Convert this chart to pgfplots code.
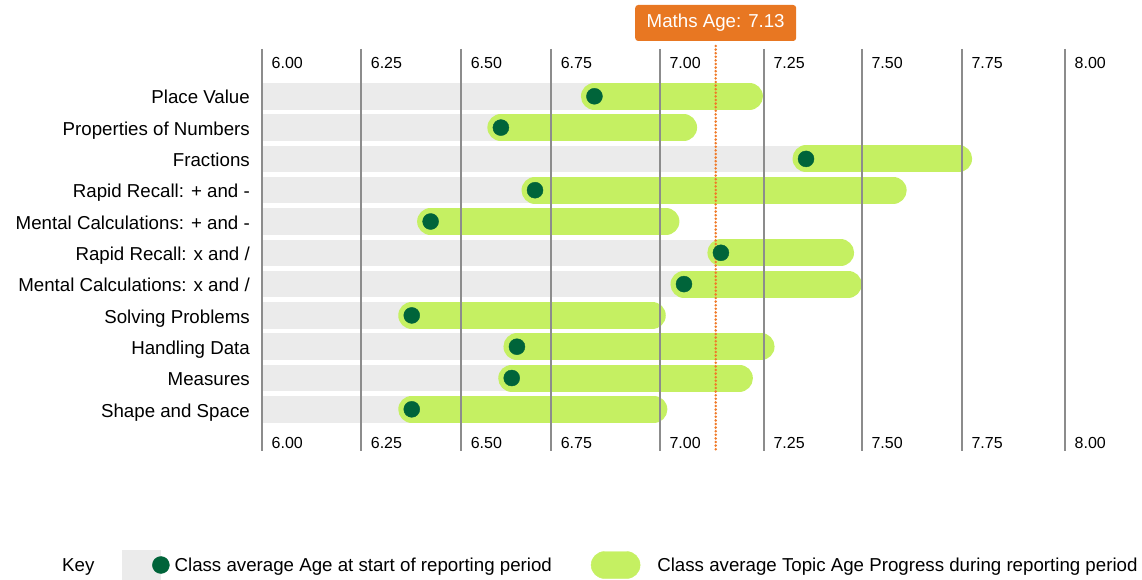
\documentclass[border=0pt]{standalone}
\usepackage{fontspec}
\setmainfont{Liberation Sans}
\usepackage{pgfplots}
\pgfplotsset{compat=1.18}
\definecolor{kgray}{HTML}{EBEBEB}
\definecolor{lgreen}{HTML}{C5F062}
\definecolor{dgreen}{HTML}{00643A}
\definecolor{orng}{HTML}{E87722}
\definecolor{dotorng}{HTML}{F07A28}
\definecolor{gridc}{HTML}{8C8C8C}
\newcommand{\tl}{\fontsize{16}{19}\selectfont}
\newcommand{\cl}{\fontsize{18.7}{22}\selectfont}
\begin{document}
\begin{tikzpicture}[x=1pt,y=1pt]
\useasboundingbox (0,0) rectangle (1142,580);
\begin{axis}[
  at={(262pt,129pt)}, anchor=south west,
  scale only axis, width=803pt, height=402pt,
  xmin=6, xmax=8, ymin=-0.511, ymax=12.332, y dir=reverse,
  clip=false, axis on top,
  axis line style={draw=none},
  major tick length=0pt,
  xtick={6,6.247,6.496,6.720,6.991,7.250,7.494,7.743,8},
  xticklabels={},
  xmajorgrids, grid style={gridc, line width=1.4pt},
  ytick={1,...,11},
  yticklabels={Place Value, Properties of Numbers, Fractions, {Rapid Recall: + and -}, {Mental Calculations: + and -}, {Rapid Recall: x and /}, {Mental Calculations: x and /}, Solving Problems, Handling Data, Measures, Shape and Space},
  yticklabel style={font=\cl, anchor=base east, inner sep=0pt, xshift=-12pt, yshift=-7.7pt},
  unbounded coords=jump,
  legend cell align=left,
  legend columns=2,
  legend style={at={(-0.17435,-0.2836)}, anchor=west, draw=none, fill=none, inner sep=0pt, font=\cl,
    /tikz/every odd column/.append style={column sep=3pt},
    /tikz/every even column/.append style={column sep=37pt}},
]
\addlegendimage{legend image code/.code={\fill[kgray] (0pt,-15pt) rectangle (38pt,15pt); \fill[dgreen] (38.5pt,0pt) circle (8.5pt);}}
\addlegendentry{Class average Age at start of reporting period}
\addlegendimage{legend image code/.code={\fill[lgreen, rounded corners=13.5pt] (0pt,-13.5pt) rectangle (49pt,13.5pt); \path (61pt,0pt);}}
\addlegendentry{Class average Topic Age Progress during reporting period}

% grey background bars: from 6.00 to start age
\addplot[forget plot, kgray, line width=26.5pt, line cap=butt] coordinates {
(6,1) (6.828,1) (nan,nan)
(6,2) (6.595,2) (nan,nan)
(6,3) (7.355,3) (nan,nan)
(6,4) (6.680,4) (nan,nan)
(6,5) (6.420,5) (nan,nan)
(6,6) (7.143,6) (nan,nan)
(6,7) (7.051,7) (nan,nan)
(6,8) (6.373,8) (nan,nan)
(6,9) (6.635,9) (nan,nan)
(6,10) (6.622,10) (nan,nan)
(6,11) (6.373,11)
};
% green progress bars: start age to end age
\addplot[forget plot, lgreen, line width=27pt, line cap=round] coordinates {
(6.828,1) (7.214,1) (nan,nan)
(6.595,2) (7.050,2) (nan,nan)
(7.355,3) (7.735,3) (nan,nan)
(6.680,4) (7.572,4) (nan,nan)
(6.420,5) (7.006,5) (nan,nan)
(7.143,6) (7.441,6) (nan,nan)
(7.051,7) (7.460,7) (nan,nan)
(6.373,8) (6.972,8) (nan,nan)
(6.635,9) (7.243,9) (nan,nan)
(6.622,10) (7.189,10) (nan,nan)
(6.373,11) (6.976,11)
};
% start age dots
\addplot[forget plot, only marks, mark=*, mark size=8pt, mark options={fill=dgreen, draw=dgreen}] coordinates {
(6.828,1) (6.595,2) (7.355,3) (6.680,4) (6.420,5) (7.143,6) (7.051,7) (6.373,8) (6.635,9) (6.622,10) (6.373,11)
};
% maths age line
\addplot[forget plot, dotorng, line width=2.8pt, line cap=round, dash pattern=on 0pt off 3.6pt] coordinates {(7.13,-0.607) (7.13,12.332)};
\node[fill=orng, text=white, rounded corners=3pt, minimum width=161pt, minimum height=36pt, inner sep=0pt, font=\cl] at (axis cs:7.13,-1.342) {Maths Age: 7.13};

% tick labels (top and bottom)
\node[anchor=base west, inner sep=0pt, xshift=9.5pt, font=\tl] at (axis cs:6,0.102) {6.00};
\node[anchor=base west, inner sep=0pt, xshift=9.5pt, font=\tl] at (axis cs:6.247,0.102) {6.25};
\node[anchor=base west, inner sep=0pt, xshift=9.5pt, font=\tl] at (axis cs:6.496,0.102) {6.50};
\node[anchor=base west, inner sep=0pt, xshift=9.5pt, font=\tl] at (axis cs:6.720,0.102) {6.75};
\node[anchor=base west, inner sep=0pt, xshift=9.5pt, font=\tl] at (axis cs:6.991,0.102) {7.00};
\node[anchor=base west, inner sep=0pt, xshift=9.5pt, font=\tl] at (axis cs:7.250,0.102) {7.25};
\node[anchor=base west, inner sep=0pt, xshift=9.5pt, font=\tl] at (axis cs:7.494,0.102) {7.50};
\node[anchor=base west, inner sep=0pt, xshift=9.5pt, font=\tl] at (axis cs:7.743,0.102) {7.75};
\node[anchor=base west, inner sep=0pt, xshift=9.5pt, font=\tl] at (axis cs:8,0.102) {8.00};
\node[anchor=base west, inner sep=0pt, xshift=9.5pt, font=\tl] at (axis cs:6,12.243) {6.00};
\node[anchor=base west, inner sep=0pt, xshift=9.5pt, font=\tl] at (axis cs:6.247,12.243) {6.25};
\node[anchor=base west, inner sep=0pt, xshift=9.5pt, font=\tl] at (axis cs:6.496,12.243) {6.50};
\node[anchor=base west, inner sep=0pt, xshift=9.5pt, font=\tl] at (axis cs:6.720,12.243) {6.75};
\node[anchor=base west, inner sep=0pt, xshift=9.5pt, font=\tl] at (axis cs:6.991,12.243) {7.00};
\node[anchor=base west, inner sep=0pt, xshift=9.5pt, font=\tl] at (axis cs:7.250,12.243) {7.25};
\node[anchor=base west, inner sep=0pt, xshift=9.5pt, font=\tl] at (axis cs:7.494,12.243) {7.50};
\node[anchor=base west, inner sep=0pt, xshift=9.5pt, font=\tl] at (axis cs:7.743,12.243) {7.75};
\node[anchor=base west, inner sep=0pt, xshift=9.5pt, font=\tl] at (axis cs:8,12.243) {8.00};
\end{axis}
\node[anchor=west, inner sep=0pt, font=\cl] at (62,13) {Key};
\end{tikzpicture}
\end{document}
